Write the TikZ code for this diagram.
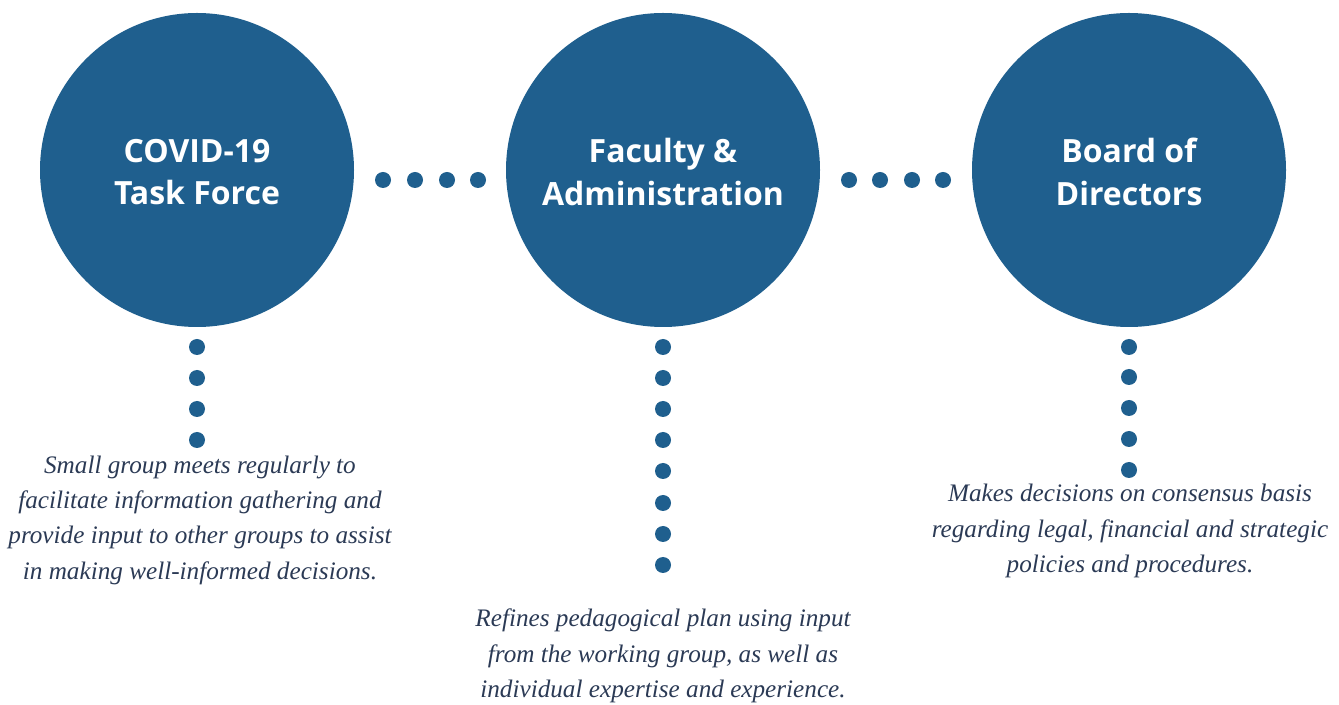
\documentclass[tikz,border=0pt]{standalone}
\usepackage{fontspec}
\setmainfont{Liberation Serif}
\newfontfamily\titlefont{Open Sans}
\definecolor{circblue}{HTML}{1F5F8E}
\definecolor{textnavy}{HTML}{2B3A55}
\begin{document}
\begin{tikzpicture}[x=0.75pt,y=-0.75pt,
  bigcirc/.style={circle,fill=circblue,draw=none,minimum size=314*0.75pt,inner sep=0pt,
    text=white,font=\titlefont\bfseries\fontsize{24}{32}\selectfont,align=center},
  dotc/.style={circle,fill=circblue,draw=none,minimum size=12,inner sep=0pt},
  desc/.style={text=textnavy,font=\itshape\fontsize{18.9}{26.5}\selectfont,align=center,inner sep=0pt}]
\useasboundingbox (0,0) rectangle (1339,705);
\node[bigcirc] (c1) at (197,170) {};
\node[bigcirc] (c2) at (663,170) {};
\node[bigcirc] (c3) at (1129,170) {};
\node[text=white,font=\titlefont\bfseries\fontsize{24}{32}\selectfont,align=center] (t1) at (197,172) {COVID-19\\Task Force};
\node[text=white,font=\titlefont\bfseries\fontsize{24}{32}\selectfont,align=center] (t2) at (663,172) {Faculty \&\\Administration};
\node[text=white,font=\titlefont\bfseries\fontsize{24}{32}\selectfont,align=center] (t3) at (1129,172) {Board of\\Directors};
\foreach \x [count=\i] in {383,415,447,478} \node[dotc] (h1\i) at (\x,180) {};
\foreach \x [count=\i] in {849,880,912,943} \node[dotc] (h2\i) at (\x,180) {};
\foreach \y [count=\i] in {347,378,409,440} \node[dotc] (v1\i) at (197,\y) {};
\foreach \y [count=\i] in {347,378,409,440,471,503,534,565} \node[dotc] (v2\i) at (663,\y) {};
\foreach \y [count=\i] in {347,377,408,439,470} \node[dotc] (v3\i) at (1129,\y) {};
\node[desc] (d1) at (200,520) {Small group meets regularly to\\facilitate information gathering and\\provide input to other groups to assist\\in making well-informed decisions.};
\node[desc] (d2) at (663,656) {Refines pedagogical plan using input\\from the working group, as well as\\individual expertise and experience.};
\node[desc] (d3) at (1130,531) {Makes decisions on consensus basis\\regarding legal, financial and strategic\\policies and procedures.};
\end{tikzpicture}
\end{document}
